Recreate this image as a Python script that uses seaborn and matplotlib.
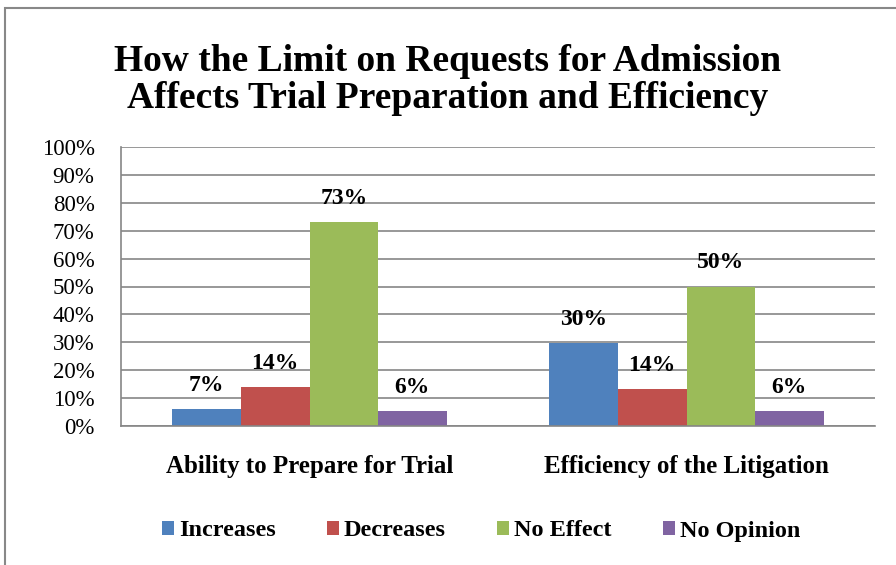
import pandas as pd
import seaborn as sns
import matplotlib.pyplot as plt
from matplotlib.patches import Rectangle, Patch
from matplotlib.ticker import PercentFormatter

# values
categories = ['Ability to Prepare for Trial', 'Efficiency of the Litigation']
series = ['Increases', 'Decreases', 'No Effect', 'No Opinion']
increases = [6.0, 29.7]
decreases = [13.8, 13.1]
no_effect = [73.0, 50.0]
no_opinion = [5.2, 5.2]
label_text = {
    'Increases': ['7%', '30%'],
    'Decreases': ['14%', '14%'],
    'No Effect': ['73%', '50%'],
    'No Opinion': ['6%', '6%'],
}
colors = ['#4F81BD', '#C0504D', '#9BBB59', '#8064A2']

rows = []
for s, vals in zip(series, [increases, decreases, no_effect, no_opinion]):
    for c, v in zip(categories, vals):
        rows.append({'category': c, 'series': s, 'value': v})
df = pd.DataFrame(rows)

sns.set_theme(style='white')
plt.rcParams['font.family'] = ['Liberation Serif', 'DejaVu Serif']
plt.rcParams['text.color'] = 'black'

fig = plt.figure(figsize=(8.96, 5.65), dpi=100)
ax = fig.add_axes([121 / 896, 1 - 426 / 565, (875 - 121) / 896, (426 - 147) / 565])

sns.barplot(data=df, x='category', y='value', hue='series', order=categories,
            hue_order=series, palette=colors, width=0.727, gap=0,
            saturation=1, legend=False, ax=ax, linewidth=0)

# data labels
for container, s in zip(ax.containers, series):
    for bar, txt in zip(container, label_text[s]):
        ax.annotate(txt, (bar.get_x() + bar.get_width() / 2, bar.get_height()),
                    xytext=(0, 13), textcoords='offset points', ha='center',
                    va='baseline', fontsize=17, fontweight='bold', color='black')

ax.set_ylim(0, 100)
ax.set_yticks(range(0, 101, 10))
ax.yaxis.set_major_formatter(PercentFormatter(decimals=0))
ax.set_xlim(-0.5, 1.5)
ax.grid(axis='y', color='#868686', linewidth=1.2)
ax.set_axisbelow(True)
for side in ['top', 'right']:
    ax.spines[side].set_visible(False)
for side in ['left', 'bottom']:
    ax.spines[side].set_color('#868686')
    ax.spines[side].set_linewidth(1.2)
ax.set_xlabel('')
ax.set_ylabel('')
ax.tick_params(axis='y', length=0, pad=19, labelsize=16.5, labelcolor='black')
ax.tick_params(axis='x', length=0, pad=21, labelsize=18, labelcolor='black')
for t in ax.get_xticklabels():
    t.set_fontweight('bold')

fig.text(0.5, 1 - 80 / 565,
         'How the Limit on Requests for Admission\nAffects Trial Preparation and Efficiency',
         ha='center', va='center', fontsize=27, fontweight='bold', linespacing=1.1,
         color='black')

handles = [Patch(facecolor=c, edgecolor='none') for c in colors]
fig.legend(handles, series, loc='center', bbox_to_anchor=(481 / 896, 1 - 531 / 565),
           ncol=4, frameon=False, handlelength=0.5, handleheight=0.5,
           handletextpad=0.2, columnspacing=2.1, labelcolor='black',
           prop={'size': 17.5, 'weight': 'bold'})

# outer chart frame
fig.patches.append(Rectangle((5 / 896, -0.1), 1.2, 1 - 8 / 565 + 0.1,
                             transform=fig.transFigure, fill=False,
                             edgecolor='#888888', linewidth=1.5))

fig.savefig('out.png', dpi=100)
